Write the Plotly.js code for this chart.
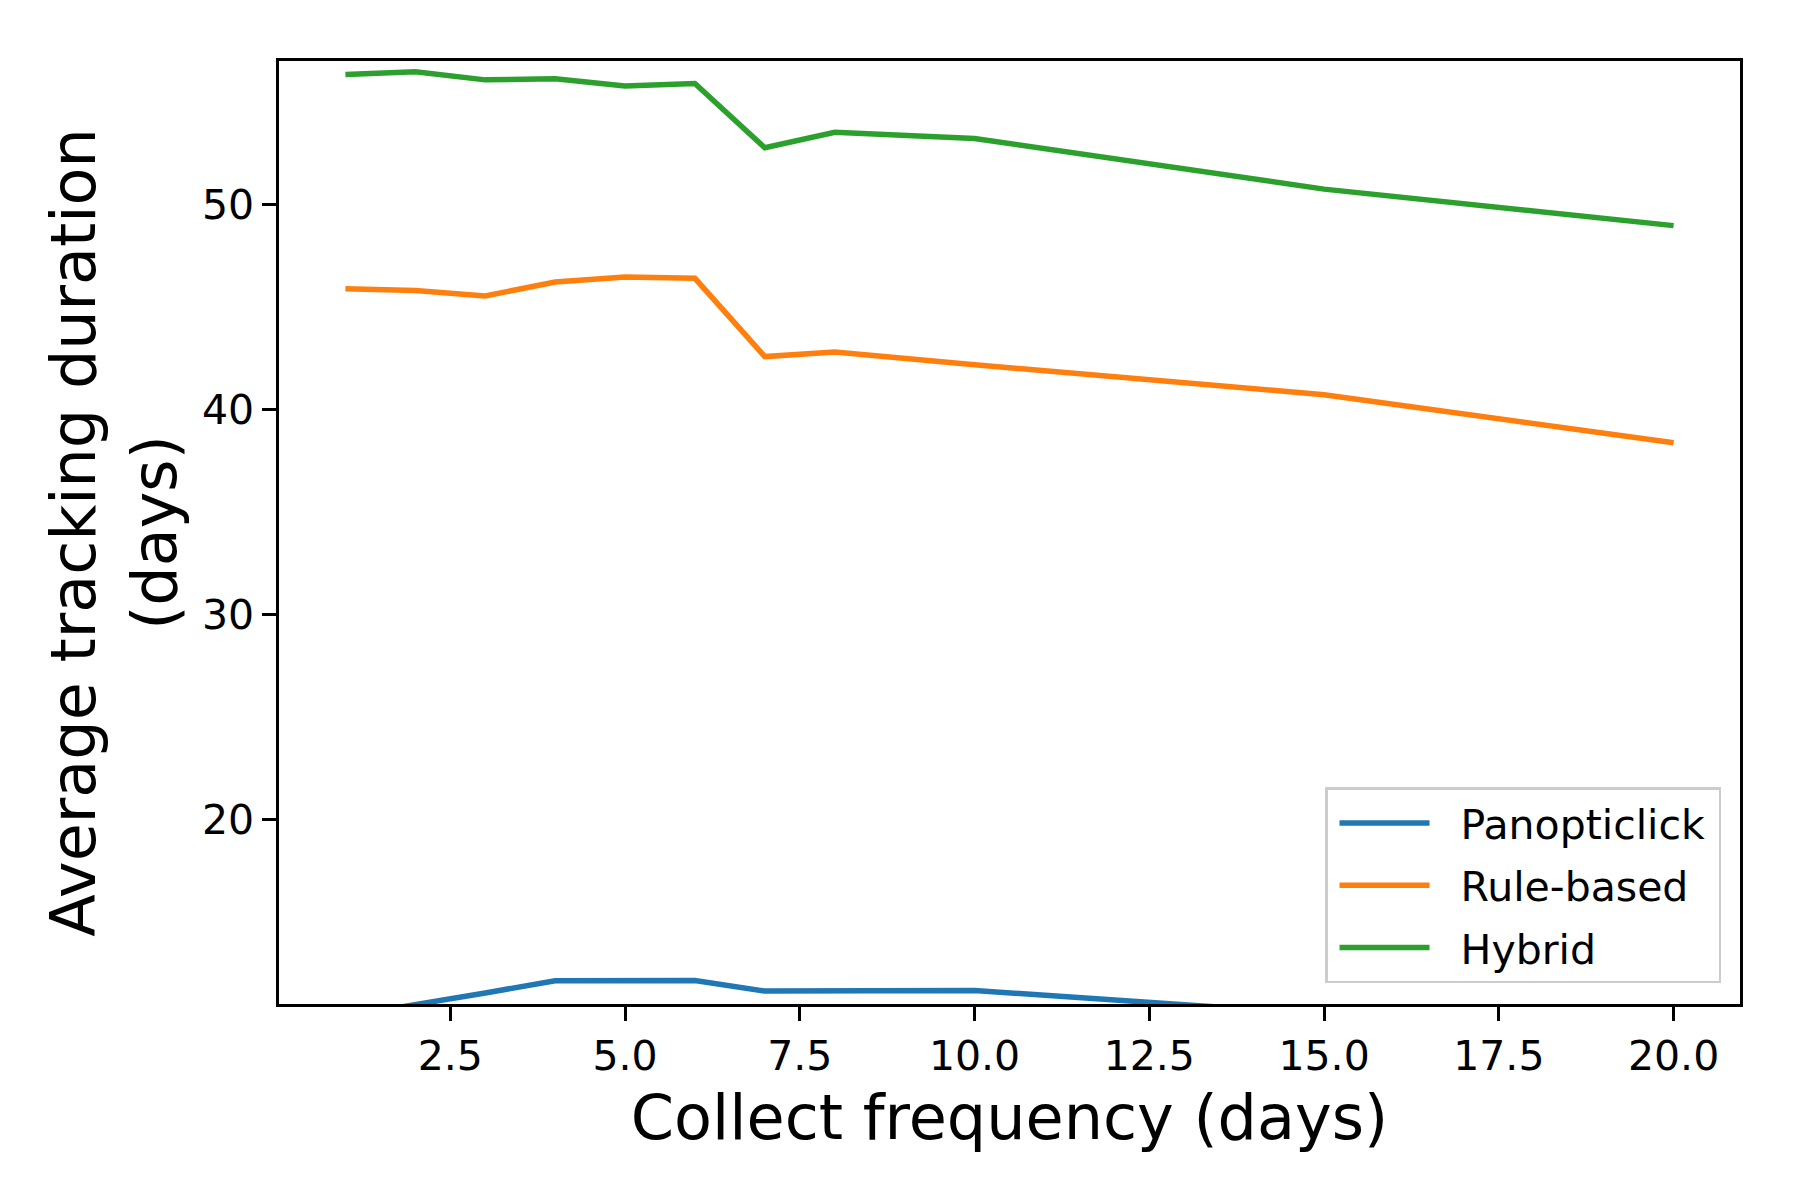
<!DOCTYPE html>
<html>
<head>
<meta charset="utf-8">
<script src="https://cdn.plot.ly/plotly-3.0.1.min.js"></script>
<style>
  body { margin: 0; background: #fff; }
  #chart { width: 1800px; height: 1200px; }
</style>
</head>
<body>
<div id="chart"></div>
<script>
// collect frequency (days)
var freq = [1, 2, 3, 4, 5, 6, 7, 8, 10, 15, 20];

// average tracking duration (days) per method
var panopticlick = [10.4, 10.95, 11.54, 12.13, 12.17, 12.15, 11.63, 11.64, 11.66, 10.5, 10.0];
var ruleBased = [45.89, 45.81, 45.54, 46.22, 46.46, 46.4, 42.58, 42.81, 42.18, 40.72, 38.38];
var hybrid = [56.34, 56.47, 56.08, 56.13, 55.78, 55.9, 52.77, 53.52, 53.22, 50.75, 48.97];

var names = ['Panopticlick', 'Rule-based', 'Hybrid'];
var colors = ['#1f77b4', '#ff7f0e', '#2ca02c'];
var series = [panopticlick, ruleBased, hybrid];

var data = series.map(function (ys, i) {
    return {
        x: freq,
        y: ys,
        type: 'scatter',
        mode: 'lines',
        // figure space / thin space pad the legend like matplotlib's
        name: '\u2007' + names[i] + '\u2009',
        legendgroup: 'g' + i,
        line: { color: colors[i], width: 5.5 }
    };
});

var axisCommon = {
    showline: true,
    mirror: true,
    linecolor: '#000',
    linewidth: 2.5,
    ticks: 'outside',
    ticklen: 14,
    tickwidth: 2.5,
    tickcolor: '#000',
    showgrid: false,
    zeroline: false,
    tickfont: { size: 41, color: '#000' }
};

var layout = {
    width: 1800,
    height: 1200,
    margin: { l: 279, r: 60, t: 61, b: 196 },
    paper_bgcolor: '#fff',
    plot_bgcolor: '#fff',
    font: { family: 'DejaVu Sans', color: '#000' },
    showlegend: true,
    xaxis: Object.assign({}, axisCommon, {
        range: [0.05, 20.95],
        tick0: 0,
        dtick: 2.5,
        tickformat: '.1f',
        title: { text: 'Collect frequency (days)', font: { size: 62 }, standoff: 17 }
    }),
    yaxis: Object.assign({}, axisCommon, {
        range: [11, 57],
        tick0: 0,
        dtick: 10,
        title: { text: 'Average tracking duration<br>(days)', font: { size: 62 }, standoff: 6 }
    }),
    legend: {
        x: 0.987,
        y: 0.022,
        xanchor: 'right',
        yanchor: 'bottom',
        bgcolor: 'rgba(255,255,255,0.8)',
        bordercolor: '#cccccc',
        borderwidth: 2.5,
        font: { size: 41 },
        itemwidth: 90,
        indentation: 7,
        traceorder: 'grouped',
        tracegroupgap: 6
    }
};

Plotly.newPlot('chart', data, layout, { displayModeBar: false });
</script>
</body>
</html>
